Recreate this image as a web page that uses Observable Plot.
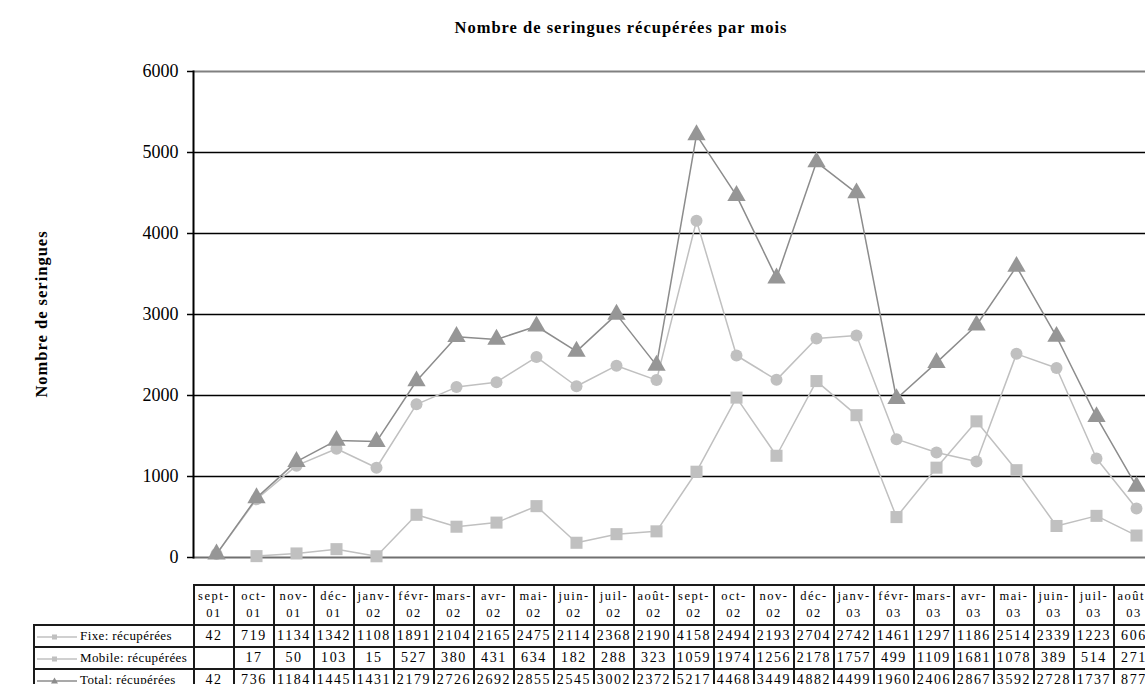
<!DOCTYPE html>
<html>
<head>
<meta charset="utf-8">
<script src="https://cdn.jsdelivr.net/npm/d3@7"></script>
<script src="https://cdn.jsdelivr.net/npm/@observablehq/plot@0.6"></script>
<style>
  html, body { margin: 0; padding: 0; background: #fff; }
  #wrap { position: relative; width: 1145px; height: 684px; overflow: hidden; background: #fff; font-family: "Liberation Serif", "DejaVu Serif", serif; }
  #title { position: absolute; left: 0; width: 1242px; top: 18px; text-align: center; font-weight: bold; font-size: 16.5px; letter-spacing: 1px; color: #000; }
  #ylab { position: absolute; left: 42px; top: 314px; transform: translate(-50%, -50%) rotate(-90deg); white-space: nowrap; font-weight: bold; font-size: 16.5px; letter-spacing: 1px; color: #000; }
  #chart { position: absolute; left: 0; top: 0; }
  #chart svg { max-width: none; }
  #tbl { position: absolute; left: 33px; top: 584px; border-collapse: collapse; table-layout: fixed; color: #000; }
  #tbl td { border: 2px solid #1a1a1a; padding: 0; text-align: center; height: 20px; white-space: nowrap; overflow: hidden; }
  #tbl td.hd { height: 38px; line-height: 17px; font-size: 12.5px; letter-spacing: 1.5px; }
  #tbl td.empty { border: none; }
  #tbl td.lab { text-align: left; letter-spacing: 0.4px; padding-left: 0px; font-size: 13px; }
  #tbl td.v { font-size: 14px; letter-spacing: 1.6px; }
</style>
</head>
<body>
<div id="wrap">
  <div id="chart"></div>
  <div id="title">Nombre de seringues récupérées par mois</div>
  <div id="ylab">Nombre de seringues</div>
  <table id="tbl"></table>
</div>
<script>
const months = ["sept-01","oct-01","nov-01","déc-01","janv-02","févr-02","mars-02","avr-02","mai-02","juin-02","juil-02","août-02","sept-02","oct-02","nov-02","déc-02","janv-03","févr-03","mars-03","avr-03","mai-03","juin-03","juil-03","août-03"];
const fixe = [42,719,1134,1342,1108,1891,2104,2165,2475,2114,2368,2190,4158,2494,2193,2704,2742,1461,1297,1186,2514,2339,1223,606];
const mobile = [null,17,50,103,15,527,380,431,634,182,288,323,1059,1974,1256,2178,1757,499,1109,1681,1078,389,514,271];
const total = [42,736,1184,1445,1431,2179,2726,2692,2855,2545,3002,2372,5217,4468,3449,4882,4499,1960,2406,2867,3592,2728,1737,877];
const seriesNames = ["Fixe: récupérées", "Mobile: récupérées", "Total: récupérées"];
const yTicks = [0,1000,2000,3000,4000,5000,6000];

const toRows = (vals) => months.map((m, i) => ({m, v: vals[i]})).filter(d => d.v != null);
const rFixe = toRows(fixe), rMob = toRows(mobile), rTot = toRows(total);

const light = "#c0c0c0", dark = "#969696";

const plot = Plot.plot({
  width: 1160,
  height: 580,
  marginLeft: 193,
  marginRight: 2,
  marginTop: 71,
  marginBottom: 23,
  style: {background: "transparent", fontFamily: "Liberation Serif, serif", fontSize: "18px", color: "#000", overflow: "visible"},
  x: {type: "point", domain: months, padding: 0.5, axis: null},
  y: {domain: [0, 6000], ticks: yTicks, tickSize: 6, tickPadding: 9, label: null, tickFormat: d => String(d)},
  marks: [
    Plot.ruleY(yTicks.filter(d => d > 0 && d < 6000), {stroke: "#000", strokeWidth: 1.5}),
    Plot.ruleY([6000], {stroke: "#808080", strokeWidth: 2}),
    Plot.ruleY([0], {stroke: "#707070", strokeWidth: 2}),
    Plot.frame({anchor: "left", stroke: "#000", strokeWidth: 2}),
    Plot.line(rFixe, {x: "m", y: "v", stroke: light, strokeWidth: 1.5}),
    Plot.dot(rFixe, {x: "m", y: "v", symbol: "circle", r: 6, fill: light, stroke: "none"}),
    Plot.line(rMob, {x: "m", y: "v", stroke: light, strokeWidth: 1.5}),
    Plot.dot(rMob, {x: "m", y: "v", symbol: "square", r: 6.8, fill: light, stroke: "none"}),
    Plot.line(rTot, {x: "m", y: "v", stroke: "#8c8c8c", strokeWidth: 1.5}),
    Plot.dot(rTot, {x: "m", y: "v", symbol: "triangle", r: 6.8, fill: dark, stroke: "none"}),
    Plot.axisY({ticks: yTicks, tickSize: 6, tickPadding: 9, stroke: "#000", strokeWidth: 1.5, fill: "#000", fontSize: 18, tickFormat: d => String(d)})
  ]
});
document.getElementById("chart").appendChild(plot);

// Data table aligned to the x scale
const xs = plot.scale("x");
const step = xs.step !== undefined ? xs.step : (xs.range[1] - xs.range[0]) / months.length;
const labW = 193 - 33;
const tbl = document.getElementById("tbl");
const cg = document.createElement("colgroup");
const c0 = document.createElement("col"); c0.style.width = labW + "px"; cg.appendChild(c0);
months.forEach(() => { const c = document.createElement("col"); c.style.width = step + "px"; cg.appendChild(c); });
tbl.appendChild(cg);
tbl.style.width = (labW + step * months.length) + "px";

const hr = document.createElement("tr");
const e = document.createElement("td"); e.className = "empty"; hr.appendChild(e);
months.forEach(m => {
  const td = document.createElement("td"); td.className = "hd";
  const idx = m.indexOf("-");
  td.innerHTML = m.slice(0, idx + 1) + "<br>" + m.slice(idx + 1);
  hr.appendChild(td);
});
tbl.appendChild(hr);

const swatch = (sym, col) => {
  let shape = "";
  if (sym === "circle") shape = `<rect x="17" y="2.5" width="5" height="5" fill="${col}"/>`;
  if (sym === "square") shape = `<rect x="17" y="2.5" width="5" height="5" fill="${col}"/>`;
  if (sym === "triangle") shape = `<path d="M19.5,1.5 L23,7.5 L16,7.5 Z" fill="${col}"/>`;
  return `<svg width="44" height="10" style="vertical-align:middle;margin-right:1px"><line x1="2" y1="5" x2="42" y2="5" stroke="${col}" stroke-width="1.3"/>${shape}</svg>`;
};
[[fixe, "circle", light], [mobile, "square", light], [total, "triangle", "#8c8c8c"]].forEach(([vals, sym, col], k) => {
  const tr = document.createElement("tr");
  const lab = document.createElement("td"); lab.className = "lab";
  lab.innerHTML = swatch(sym, col) + seriesNames[k];
  tr.appendChild(lab);
  vals.forEach(v => {
    const td = document.createElement("td"); td.className = "v";
    td.textContent = v == null ? "" : String(v);
    tr.appendChild(td);
  });
  tbl.appendChild(tr);
});
</script>
</body>
</html>
